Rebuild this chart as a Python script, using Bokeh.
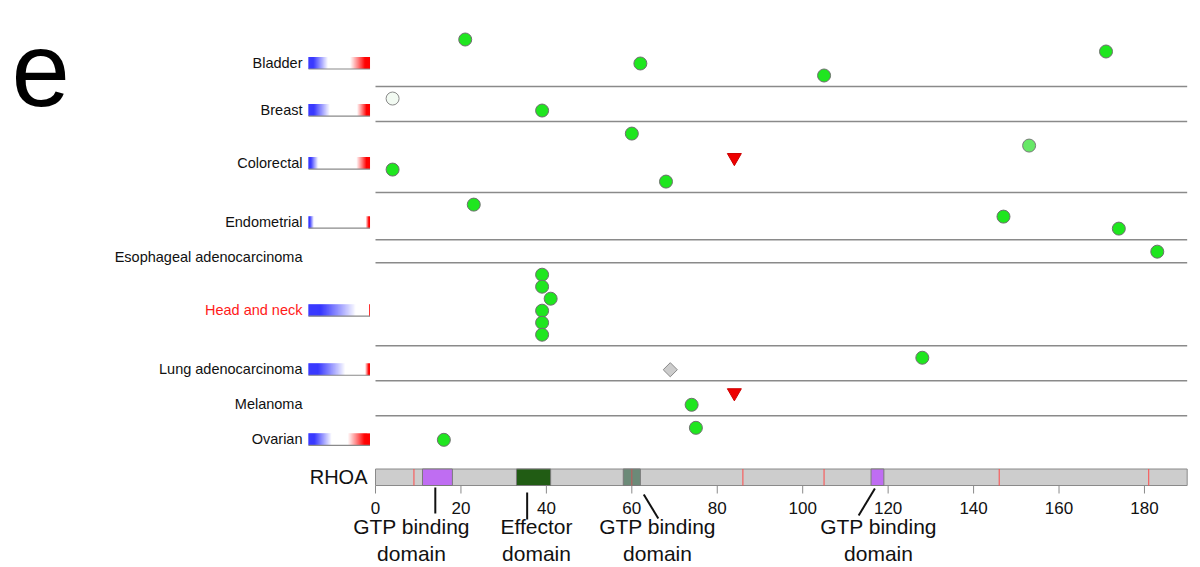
import numpy as np
from bokeh.plotting import figure
from bokeh.models import Range1d, ColumnDataSource
from bokeh.core.properties import value
from bokeh.embed import file_html
from bokeh.resources import INLINE

# ---------------- data ----------------
cancer_types = ["Bladder", "Breast", "Colorectal", "Endometrial",
                "Esophageal adenocarcinoma", "Head and neck",
                "Lung adenocarcinoma", "Melanoma", "Ovarian"]
highlighted = ["Head and neck"]

# copy-number loss / gain fractions (None = no data)
cn_loss = [0.32, 0.35, 0.16, 0.09, None, 0.77, 0.60, None, 0.38]
cn_gain = [0.32, 0.21, 0.22, 0.07, None, 0.02, 0.08, None, 0.36]

# mutations, listed in lane order within each cancer type
mut_cancer = (["Bladder"] * 4 + ["Breast"] * 2 + ["Colorectal"] * 5 +
              ["Endometrial"] * 3 + ["Esophageal adenocarcinoma"] +
              ["Head and neck"] * 6 + ["Lung adenocarcinoma"] * 2 +
              ["Melanoma"] * 2 + ["Ovarian"] * 2)
mut_position = [21, 171, 62, 105,
                4, 39,
                60, 153, 84, 4, 68,
                23, 147, 174,
                183,
                39, 39, 41, 39, 39, 39,
                128, 69,
                84, 74,
                75, 16]
mut_class = ["missense", "missense", "missense", "missense",
             "silent", "missense",
             "missense", "missense_low", "truncating", "missense", "missense",
             "missense", "missense", "missense",
             "missense",
             "missense", "missense", "missense", "missense", "missense", "missense",
             "missense", "inframe",
             "truncating", "missense",
             "missense", "missense"]

protein_name = "RHOA"
protein_length = 190
domain_names = ["GTP binding\ndomain", "Effector\ndomain", "GTP binding\ndomain", "GTP binding\ndomain"]
domain_start = [11, 33, 58, 116]
domain_end = [18, 41, 62, 119]
exon_boundaries = [9, 60, 86, 105, 146, 181]

tick_values = [0, 20, 40, 60, 80, 100, 120, 140, 160, 180]
tick_labels = [str(t) for t in tick_values]

# ---------------- layout helpers ----------------
W, H = 1200, 567
X0_PX, PX_PER_AA = 375.0, 4.272      # residue 0 position and scale
Y0_PX, PX_PER_LANE = 27.0, 12.0      # first row top and lane height


def px_x(px):
    return (px - X0_PX) / PX_PER_AA


def px_y(px):
    return (px - Y0_PX) / PX_PER_LANE


p = figure(width=W, height=H, output_backend="svg", toolbar_location=None,
           x_range=Range1d(px_x(0), px_x(W)), y_range=Range1d(px_y(H), px_y(0)),
           x_axis_location=None, y_axis_location=None, min_border=0)
p.grid.visible = False
p.outline_line_color = None
p.background_fill_color = "white"
p.border_fill_color = "white"

FONT = value("Liberation Sans")

# rows: one lane per mutation
counts = [mut_cancer.count(c) for c in cancer_types]
heights = [n + 0.92 for n in counts]
tops = np.concatenate([[0.0], np.cumsum(heights)[:-1]])
bottoms = tops + np.array(heights)

lane = []
seen = {}
for c in mut_cancer:
    k = seen.get(c, 0)
    lane.append(tops[cancer_types.index(c)] + 1 + k)
    seen[c] = k + 1

# row separators
sep_y = list(bottoms[:-1])
p.segment(x0=[0] * len(sep_y), x1=[protein_length] * len(sep_y), y0=sep_y, y1=sep_y,
          line_color="#8a8a8a", line_width=1.5)

# row labels
label_y = list((tops + bottoms) / 2 + 0.5)
p.text(x=[px_x(302)] * len(cancer_types), y=label_y, text=cancer_types,
       text_align="right", text_baseline="middle", text_font=FONT,
       text_font_size=value("14.5px"),
       text_color=["#ff1a1a" if c in highlighted else "#111111" for c in cancer_types])

# copy-number gradient bars
bar_l, bar_r = 308, 369.5
nslice = 62
gx, gy, gw, gcol = [], [], [], []
for i, c in enumerate(cancer_types):
    lo, hi = cn_loss[i], cn_gain[i]
    if lo is None:
        continue
    yc = label_y[i]
    for s in range(nslice):
        t = (s + 0.5) / nslice
        b = min(1.0, max(0.0, 1.35 * (1 - t / lo))) if lo > 0 else 0.0
        r = min(1.0, max(0.0, 1.35 * (1 - (1 - t) / hi))) if hi > 0 else 0.0
        R = int(255 * (1 - b))
        G = int(255 * (1 - b) * (1 - r))
        B = int(255 * (1 - r))
        gx.append(px_x(bar_l + (bar_r - bar_l) * t))
        gy.append(yc)
        gw.append((bar_r - bar_l) / nslice / PX_PER_AA * 1.05)
        gcol.append("#%02x%02x%02x" % (R, G, B))
p.rect(x=gx, y=gy, width=gw, height=1.0, fill_color=gcol, line_color=None)
bar_rows = [label_y[i] + 0.5 for i in range(len(cancer_types)) if cn_loss[i] is not None]
p.segment(x0=[px_x(bar_l)] * len(bar_rows), x1=[px_x(bar_r)] * len(bar_rows),
          y0=bar_rows, y1=bar_rows, line_color="#8a8a8a", line_width=1.2)

# mutation markers
styles = {
    "missense": dict(marker="circle", size=13, fill="#1fe61f", line="#6f6f6f", angle=0.0),
    "missense_low": dict(marker="circle", size=13, fill="#66e866", line="#7a7a7a", angle=0.0),
    "silent": dict(marker="circle", size=13, fill="#f2faf2", line="#8a8a8a", angle=0.0),
    "truncating": dict(marker="inverted_triangle", size=14, fill="#ee0000", line="#cc0000", angle=0.0),
    "inframe": dict(marker="square", size=10, fill="#cccccc", line="#8a8a8a", angle=np.pi / 4),
}
for cls, st in styles.items():
    idx = [i for i, m in enumerate(mut_class) if m == cls]
    if not idx:
        continue
    src = ColumnDataSource(dict(x=[mut_position[i] for i in idx], y=[lane[i] for i in idx]))
    p.scatter("x", "y", source=src, marker=st["marker"], size=st["size"],
              fill_color=st["fill"], line_color=st["line"], line_width=1,
              angle=st["angle"])

# protein bar
BAR_TOP, BAR_BOT = px_y(468.5), px_y(485)
p.quad(left=[0], right=[protein_length], top=[BAR_TOP], bottom=[BAR_BOT],
       fill_color="#cdcdcd", line_color="#8a8a8a", line_width=1)
p.segment(x0=exon_boundaries, x1=exon_boundaries,
          y0=[BAR_TOP] * len(exon_boundaries), y1=[BAR_BOT] * len(exon_boundaries),
          line_color="#ff4a4a", line_width=1)
domain_colors = ["#bf6df2", "#215c14", "#6c8a78", "#bf6df2"]
p.quad(left=domain_start, right=domain_end, top=[BAR_TOP] * 4, bottom=[BAR_BOT] * 4,
       fill_color=domain_colors, line_color="#7a7a7a", line_width=1)
# exon boundary inside the third domain stays visible
p.segment(x0=[60], x1=[60], y0=[BAR_TOP], y1=[BAR_BOT], line_color="#c05a5a", line_width=1)

p.text(x=[px_x(367)], y=[px_y(476)], text=[protein_name], text_align="right",
       text_baseline="middle", text_font=FONT, text_font_size=value("20px"),
       text_color="#111111")

# residue axis
p.segment(x0=tick_values, x1=tick_values, y0=[BAR_BOT] * len(tick_values),
          y1=[px_y(493)] * len(tick_values), line_color="#8a8a8a", line_width=1)
p.text(x=tick_values, y=[px_y(507)] * len(tick_values), text=tick_labels,
       text_align="center", text_baseline="middle", text_font=FONT,
       text_font_size=value("17px"), text_color="#111111")

# domain callouts
lead_x0 = [14, 35.5, 62.8, 116.9]
lead_x1 = [14, 35.5, 66.2, 113.1]
lead_y0 = [px_y(487), px_y(492), px_y(494), px_y(488)]
lead_y1 = [px_y(513), px_y(519), px_y(518), px_y(515)]
p.segment(x0=lead_x0, x1=lead_x1, y0=lead_y0, y1=lead_y1, line_color="#111111", line_width=2)
label_cx = [px_x(411), px_x(536), px_x(657), px_x(878)]
p.text(x=label_cx, y=[px_y(539.5)] * 4, text=domain_names, text_align="center",
       text_baseline="middle", text_font=FONT, text_font_size=value("21px"),
       text_line_height=1.2, text_color="#111111")

# panel letter
p.text(x=[px_x(11)], y=[px_y(69)], text=["e"], text_align="left",
       text_baseline="alphabetic", text_font=FONT, text_font_size=value("105px"),
       text_color="#000000")

open("out.html", "w").write(file_html(p, INLINE))
